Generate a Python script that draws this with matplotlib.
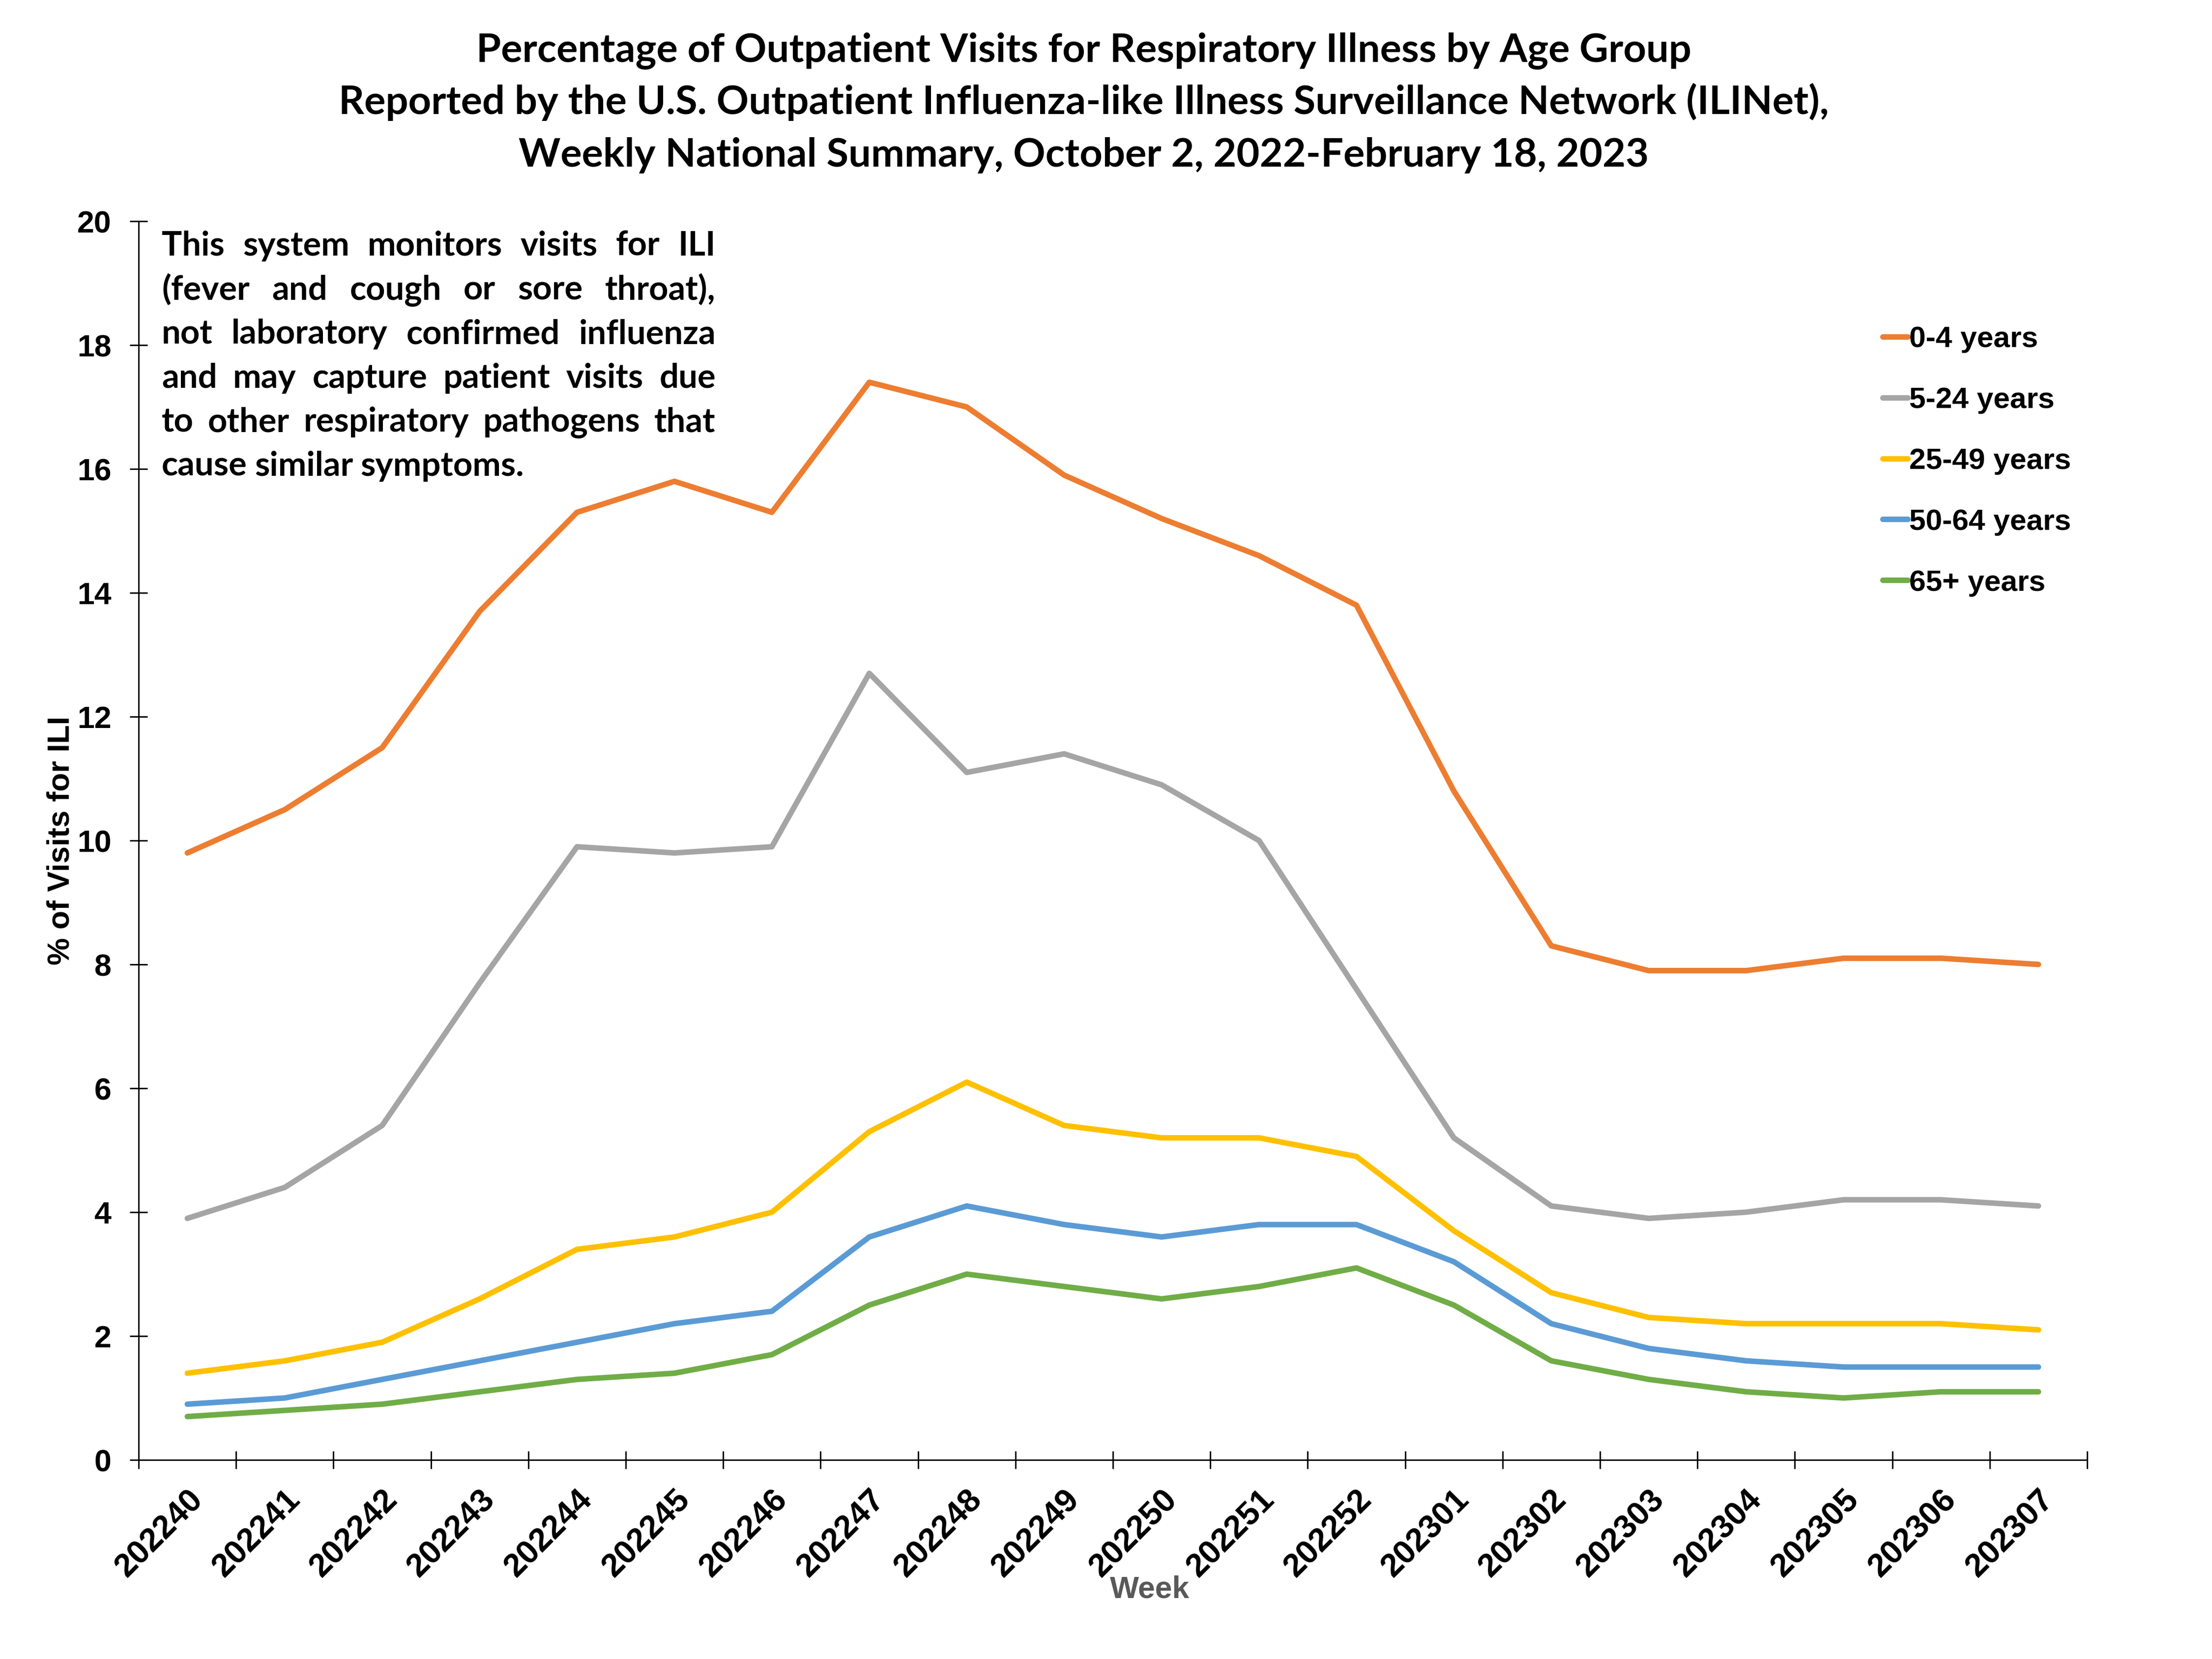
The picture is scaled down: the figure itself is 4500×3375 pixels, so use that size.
import matplotlib
matplotlib.use('Agg')
import matplotlib.pyplot as plt
import numpy as np

# 数据
weeks = ['202240', '202241', '202242', '202243', '202244', '202245', '202246',
         '202247', '202248', '202249', '202250', '202251', '202252', '202301',
         '202302', '202303', '202304', '202305', '202306', '202307']

age_0_4 = [9.8, 10.5, 11.5, 13.7, 15.3, 15.8, 15.3, 17.4, 17.0, 15.9,
           15.2, 14.6, 13.8, 10.8, 8.3, 7.9, 7.9, 8.1, 8.1, 8.0]
age_5_24 = [3.9, 4.4, 5.4, 7.7, 9.9, 9.8, 9.9, 12.7, 11.1, 11.4,
            10.9, 10.0, 7.6, 5.2, 4.1, 3.9, 4.0, 4.2, 4.2, 4.1]
age_25_49 = [1.4, 1.6, 1.9, 2.6, 3.4, 3.6, 4.0, 5.3, 6.1, 5.4,
             5.2, 5.2, 4.9, 3.7, 2.7, 2.3, 2.2, 2.2, 2.2, 2.1]
age_50_64 = [0.9, 1.0, 1.3, 1.6, 1.9, 2.2, 2.4, 3.6, 4.1, 3.8,
             3.6, 3.8, 3.8, 3.2, 2.2, 1.8, 1.6, 1.5, 1.5, 1.5]
age_65 = [0.7, 0.8, 0.9, 1.1, 1.3, 1.4, 1.7, 2.5, 3.0, 2.8,
          2.6, 2.8, 3.1, 2.5, 1.6, 1.3, 1.1, 1.0, 1.1, 1.1]

series = [
    ('0-4 years', age_0_4, '#ED7D31'),
    ('5-24 years', age_5_24, '#A5A5A5'),
    ('25-49 years', age_25_49, '#FFC000'),
    ('50-64 years', age_50_64, '#5B9BD5'),
    ('65+ years', age_65, '#70AD47'),
]

title_lines = [
    'Percentage of Outpatient Visits for Respiratory Illness by Age Group',
    'Reported by the U.S. Outpatient Influenza-like Illness Surveillance Network (ILINet),',
    'Weekly National Summary, October 2, 2022-February 18, 2023',
]

note_lines = [
    'This system monitors visits for ILI',
    '(fever and cough or sore throat),',
    'not laboratory confirmed influenza',
    'and may capture patient visits due',
    'to other respiratory pathogens that',
    'cause similar symptoms.',
]

arial = 'Liberation Sans'
calibri = 'Lato'

W, H, DPI = 4500, 3375, 300
fig = plt.figure(figsize=(W / DPI, H / DPI), dpi=DPI)
ax = fig.add_axes([282 / W, 1 - 2970 / H, (4246 - 282) / W, (2970 - 450) / H])

x = np.arange(len(weeks))
for name, vals, col in series:
    ax.plot(x, vals, color=col, linewidth=2.7, label=name,
            solid_capstyle='round')

ax.set_xlim(-0.5, len(weeks) - 0.5)
ax.set_ylim(0, 20)
ax.set_yticks(np.arange(0, 21, 2))
ax.set_xticks(x)
ax.set_xticks(np.arange(-0.5, len(weeks), 1), minor=True)
ax.set_xticklabels(weeks, rotation=45, ha='right', va='top', rotation_mode='anchor')

for lab in ax.get_xticklabels():
    lab.set_fontfamily(arial)
    lab.set_fontweight('bold')
    lab.set_fontsize(16)
for lab in ax.get_yticklabels():
    lab.set_fontfamily(arial)
    lab.set_fontweight('bold')
    lab.set_fontsize(15)

ax.tick_params(axis='x', which='major', length=0, pad=12)
ax.tick_params(axis='x', which='minor', direction='inout', length=8.6, width=0.7)
ax.tick_params(axis='y', direction='inout', length=8.6, width=0.7, pad=9)

for s in ['top', 'right']:
    ax.spines[s].set_visible(False)
for s in ['left', 'bottom']:
    ax.spines[s].set_linewidth(0.7)

ax.set_ylabel('% of Visits for ILI', fontfamily=arial, fontweight='bold', fontsize=15)
ax.yaxis.set_label_coords(-0.0325, 0.5)
ax.set_xlabel('Week', fontfamily=arial, fontweight='bold', fontsize=15, color='#595959')
ax.xaxis.set_label_coords(0.519, -0.093)

leg = ax.legend(loc='upper left', bbox_to_anchor=(3830 / W, 1 - 663 / H),
                bbox_transform=fig.transFigure, frameon=False,
                prop={'family': arial, 'weight': 'bold', 'size': 14.5},
                handlelength=0.85, handletextpad=0.05, labelspacing=1.14,
                borderpad=0, borderaxespad=0)

# 标题
for i, line in enumerate(title_lines):
    fig.text(2205 / W, 1 - (125 + 107 * i) / H, line, ha='center', va='baseline',
             fontfamily=calibri, fontweight='bold', fontsize=19.5)

# 两端对齐的说明文字
renderer = fig.canvas.get_renderer()
left_px, right_px = 329, 1456
fs = 16.5
for i, line in enumerate(note_lines):
    ypx = 520 + 89.6 * i
    words = line.split()
    texts = [fig.text(0, 1 - ypx / H, w, ha='left', va='baseline',
                      fontfamily=calibri, fontweight='bold', fontsize=fs)
             for w in words]
    widths = [t.get_window_extent(renderer).width for t in texts]
    if i < len(note_lines) - 1:
        gap = (right_px - left_px - sum(widths)) / (len(words) - 1)
    else:
        gap = fs * 0.22 * DPI / 72
    xpos = left_px
    for t, w in zip(texts, widths):
        t.set_x(xpos / W)
        xpos += w + gap

plt.savefig('out.png', dpi=DPI)
